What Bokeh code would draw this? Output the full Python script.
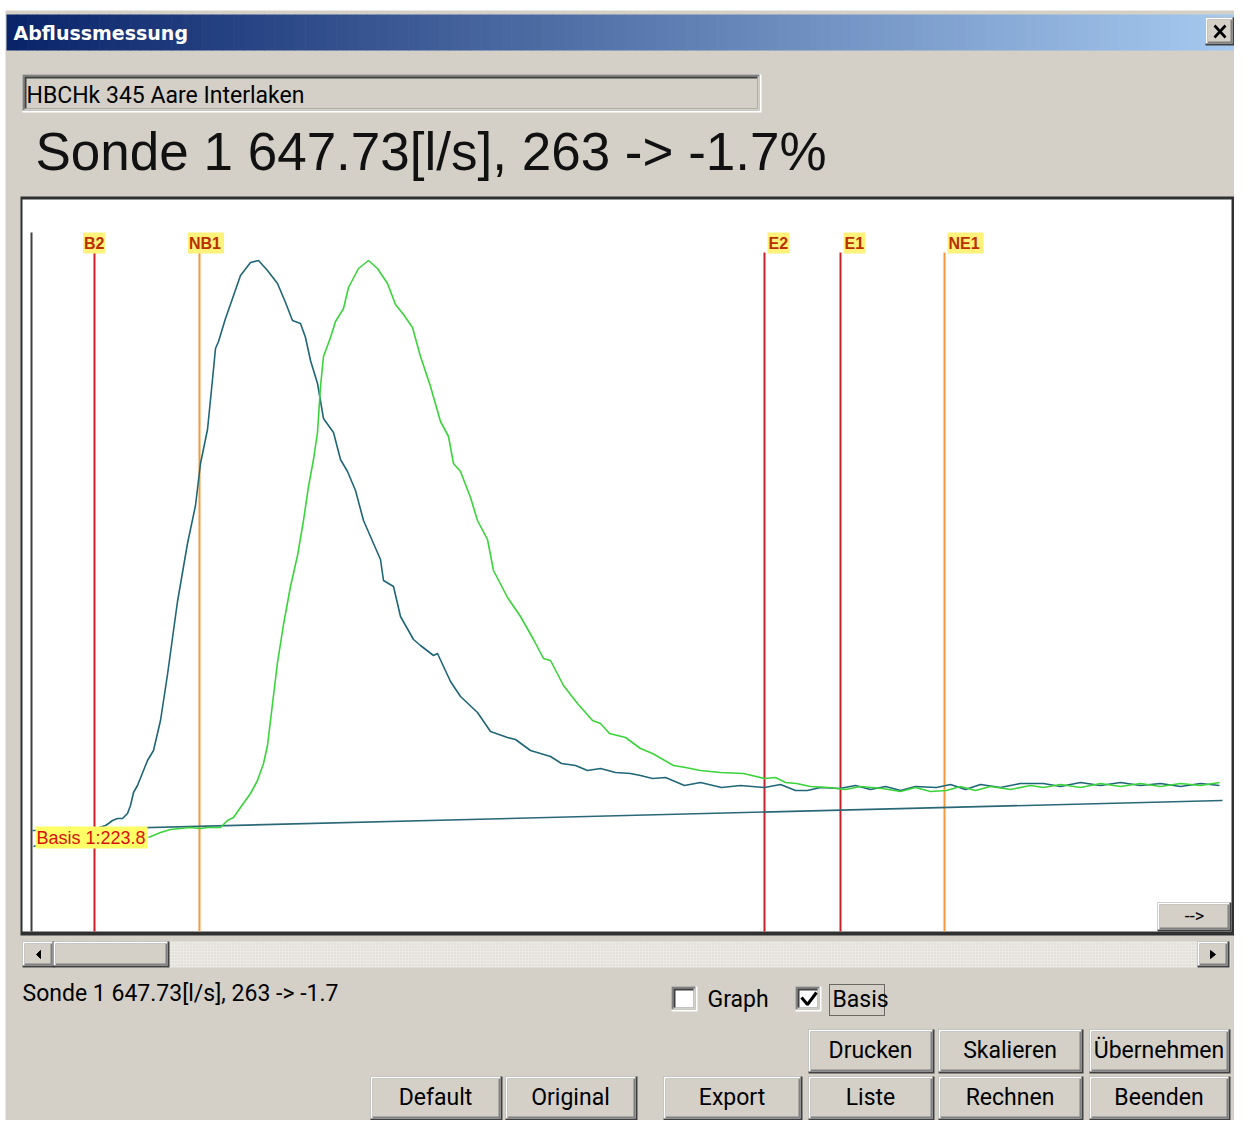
import numpy as np
from bokeh.plotting import figure
from bokeh.models import Range1d
from bokeh.core.properties import value
from bokeh.embed import file_html
from bokeh.resources import INLINE

# ---------------- data ----------------
# time (s) and signal values of the two probes
blue_t = [1, 28, 58, 73, 76, 80, 85, 90, 95, 98, 101, 105, 109, 115, 121, 128, 135, 145, 155, 163,
          168, 175, 180, 183, 186, 193, 200, 208, 218, 226, 235, 245, 253, 260, 268, 273, 278, 285,
          291, 301, 308, 315, 323, 331, 341, 348, 351, 361, 368, 381, 388, 401, 405, 418, 428, 445,
          458, 475, 483, 498, 518, 529, 543, 555, 568, 583, 598, 608, 620, 633, 652, 668, 689, 708,
          732, 748, 763, 775, 788, 807, 823, 838, 853, 868, 883, 904, 918, 933, 948, 968, 988, 1011,
          1028, 1048, 1068, 1088, 1108, 1128, 1148, 1168, 1187]
blue_v = [222.2, 223.0, 223.8, 224.3, 224.5, 224.8, 225.0, 225.0, 225.5, 226.3, 227.6, 228.3, 229.3,
          230.8, 231.8, 234.8, 239.4, 246.7, 252.5, 256.3, 260.5, 263.9, 268.9, 272.0, 272.7, 275.0,
          277.0, 279.3, 280.6, 280.8, 279.8, 278.5, 276.6, 274.8, 274.5, 273.1, 270.8, 268.5, 265.0,
          263.6, 260.9, 259.7, 257.8, 254.8, 252.5, 250.9, 248.8, 248.2, 245.2, 242.9, 242.3, 241.3,
          241.5, 238.7, 237.2, 235.6, 233.7, 233.1, 232.9, 231.8, 231.2, 230.5, 230.3, 229.8, 230.0,
          229.6, 229.5, 229.3, 229.0, 229.1, 228.3, 228.6, 228.1, 228.3, 228.1, 228.4, 227.8, 227.8,
          228.1, 228.0, 228.3, 227.9, 228.2, 227.8, 228.2, 228.1, 228.4, 227.9, 228.4, 228.1, 228.5,
          228.5, 228.2, 228.6, 228.3, 228.6, 228.3, 228.5, 228.2, 228.5, 228.3]

green_t = [116, 128, 138, 148, 158, 168, 175, 188, 195, 201, 208, 218, 225, 231, 235, 238, 245, 251,
           258, 265, 271, 276, 281, 285, 288, 291, 298, 303, 311, 316, 326, 336, 345, 355, 363, 371,
           380, 388, 398, 408, 416, 421, 428, 438, 445, 455, 461, 475, 488, 501, 511, 518, 531, 545,
           560, 568, 577, 593, 608, 620, 641, 653, 668, 688, 711, 732, 743, 753, 764, 778, 796, 813,
           828, 850, 868, 883, 898, 914, 928, 943, 958, 978, 998, 1011, 1028, 1048, 1068, 1088, 1108,
           1128, 1148, 1168, 1187]
green_v = [223.1, 223.6, 223.9, 224.0, 224.1, 224.0, 224.1, 224.1, 224.8, 225.1, 226.1, 227.5, 228.8,
           230.5, 232.3, 234.8, 240.6, 244.4, 248.2, 251.3, 254.8, 258.2, 260.9, 263.6, 268.2, 271.2,
           273.1, 274.7, 276.0, 278.1, 280.0, 280.8, 280.0, 278.5, 276.4, 275.4, 274.1, 271.2, 268.2,
           264.7, 263.2, 260.5, 259.7, 257.1, 254.8, 252.9, 249.8, 247.1, 245.2, 242.9, 241.0, 240.8,
           238.3, 236.5, 234.8, 234.5, 233.5, 233.1, 232.0, 231.5, 230.3, 230.1, 229.8, 229.6, 229.5,
           229.0, 229.1, 228.6, 228.5, 228.2, 228.1, 227.9, 228.2, 228.0, 227.7, 228.1, 227.7, 227.8,
           228.2, 227.8, 228.2, 227.9, 228.3, 228.1, 228.4, 228.1, 228.5, 228.2, 228.5, 228.2, 228.5,
           228.3, 228.6]

basis_t = [0, 1190]
basis_v = [223.8, 226.8]
basis_label = "Basis 1:223.8"

marker_names = ["B2", "NB1", "E2", "E1", "NE1"]
marker_t = [62, 167, 732, 808, 912]
marker_is_end = [False, False, True, True, True]
marker_colors = ["#C8202A", "#F09A3C", "#C8202A", "#C8202A", "#F09A3C"]

station_text = "HBCHk 345 Aare Interlaken"
result_text = "Sonde 1 647.73[l/s], 263 -> -1.7%"
status_text = "Sonde 1 647.73[l/s], 263 -> -1.7"
window_title = "Abflussmessung"
row1_buttons = ["Drucken", "Skalieren", "Übernehmen"]
row2_buttons = ["Default", "Original", "Export", "Liste", "Rechnen", "Beenden"]

# ---------------- figure ----------------
UI = "Roboto"
UI_SIZE = 23
FACE = "#D4D0C8"
W, H = 1234, 1120

p = figure(width=W, height=H, x_range=Range1d(-32, 1202), y_range=Range1d(194.8, 306.8),
           output_backend="svg", toolbar_location=None, x_axis_type=None, y_axis_type=None,
           min_border=0, outline_line_color=None)
p.min_border_left = p.min_border_right = p.min_border_top = p.min_border_bottom = 0
p.extra_x_ranges = {"px": Range1d(0, 1234)}
p.extra_y_ranges = {"px": Range1d(1120, 0)}
p.background_fill_color = "white"
p.border_fill_color = "white"

PX = dict(x_range_name="px", y_range_name="px")


def pquad(l, r, t, b, color):
    p.quad(left=[l], right=[r], top=[t], bottom=[b], fill_color=color, line_color=None, **PX)


def raised(l, r, t, b):
    pquad(l, r, t, b, "#404040")
    pquad(l, r - 2, t, b - 2, "#FFFFFF")
    pquad(l + 2, r - 2, t + 2, b - 2, "#808080")
    pquad(l + 2, r - 4, t + 2, b - 4, FACE)


def sunken(l, r, t, b, face):
    pquad(l, r, t, b, "#FFFFFF")
    pquad(l, r - 2, t, b - 2, "#808080")
    pquad(l + 2, r - 2, t + 2, b - 2, FACE)
    pquad(l + 2, r - 4, t + 2, b - 4, "#404040")
    pquad(l + 4, r - 4, t + 4, b - 4, face)


def ptext(x, y, s, size, color="#000000", font=UI, align="left", baseline="middle", style="normal"):
    p.text(x=[x], y=[y], text=[s], text_font=value(font), text_font_size=value(f"{size}px"),
           text_color=color, text_align=align, text_baseline=baseline, text_font_style=style, **PX)


# dialog background
pquad(0, 1240, 0, 1130, "#FFFFFF")
pquad(5, 1240, 10, 1130, FACE)

# title bar gradient
n = 120
xs = np.linspace(6, 1242, n + 1)
c0, c1 = (10, 36, 106), (166, 202, 240)
cols = ["#%02x%02x%02x" % tuple(int(round(a + (b - a) * i / (n - 1))) for a, b in zip(c0, c1))
        for i in range(n)]
p.quad(left=xs[:-1], right=xs[1:] + 0.6, top=14, bottom=50, fill_color=cols, line_color=None, **PX)
ptext(13, 32, window_title, 19, color="#FFFFFF", font="DejaVu Sans", style="bold")

# close button
raised(1205, 1234, 17, 45)
p.segment(x0=[1214, 1214], y0=[25, 37], x1=[1225, 1225], y1=[37, 25], line_color="#000000",
          line_width=2.6, **PX)

# station field
sunken(22, 761, 74, 112, FACE)
ptext(26, 95, station_text, UI_SIZE)

# big result text
ptext(35, 151, result_text, 53, color="#111111", font="Liberation Sans")

# chart area
pquad(20, 1234, 196, 935, "#303030")
pquad(22, 1231, 199, 931, "#FFFFFF")
p.segment(x0=[31], y0=[232], x1=[31], y1=[931], line_color="#404040", line_width=2, **PX)

# "-->" button
raised(1157, 1231, 902, 931)
ptext(1194, 915, "-->", 18, align="center")

# scrollbar
pquad(22, 1230, 941, 967, "#ECEAE5")
p.quad(left=[22], right=[1230], top=[941], bottom=[967], fill_color=None, line_color=None,
       hatch_pattern="dot", hatch_color="#D4D0C8", hatch_scale=3, **PX)
raised(22, 54, 941, 967)
raised(53, 169, 941, 967)
raised(1197, 1229, 941, 967)
p.patches(xs=[[36, 40, 40], [1210, 1210, 1215]], ys=[[954, 950, 958], [950, 958, 954]],
          fill_color="#000000", line_color="#000000", **PX)

# status text
ptext(22, 993, status_text, UI_SIZE)

# checkboxes
sunken(671, 697, 986, 1011, "#FFFFFF")
ptext(707, 999, "Graph", UI_SIZE)
sunken(795, 821, 986, 1011, "#FFFFFF")
p.line(x=[801, 807, 816], y=[997, 1004, 992], line_color="#000000", line_width=3, **PX)
ptext(832, 999, "Basis", UI_SIZE)
p.quad(left=[829], right=[884], top=[984], bottom=[1015], fill_color=None, line_color="#000000",
       line_dash="1 1", line_width=1, **PX)

# buttons
row1_x = [(808, 934), (938, 1083), (1089, 1230)]
row2_x = [(370, 502), (505, 637), (663, 802), (808, 934), (938, 1083), (1089, 1230)]
for (l, r), lab in zip(row1_x, row1_buttons):
    raised(l, r, 1029, 1073)
    ptext((l + r) / 2 - 1, 1050, lab, UI_SIZE, align="center")
for (l, r), lab in zip(row2_x, row2_buttons):
    raised(l, r, 1076, 1120)
    ptext((l + r) / 2 - 1, 1097, lab, UI_SIZE, align="center")

# ---------------- chart content (data coordinates) ----------------
top_v, bot_v = 281.6, 213.7
p.segment(x0=marker_t, y0=[top_v] * len(marker_t), x1=marker_t, y1=[bot_v] * len(marker_t),
          line_color=marker_colors, line_width=2)

p.line(basis_t, basis_v, line_color="#2A6878", line_width=1.6)
p.line(blue_t, blue_v, line_color="#1F6676", line_width=1.6)
p.line(green_t, green_v, line_color="#3AD43A", line_width=1.6)

# marker labels
lab_left = [t + 3 if e else t - 11.5 for t, e in zip(marker_t, marker_is_end)]
lab_right = [l + 14 * len(nm) - 6 for l, nm in zip(lab_left, marker_names)]
p.quad(left=lab_left, right=lab_right, top=[283.6] * 5, bottom=[281.5] * 5,
       fill_color="#FFF27A", line_color=None)
p.text(x=[l + 1 for l in lab_left], y=[282.55] * 5, text=marker_names,
       text_font=value("Liberation Sans"), text_font_size=value("16px"), text_font_style="bold",
       text_color="#B83000", text_baseline="middle")

# basis label
p.quad(left=[3], right=[115], top=[224.2], bottom=[222.0], fill_color="#FFFF66", line_color=None)
p.text(x=[4], y=[223.1], text=[basis_label], text_font=value("Liberation Sans"),
       text_font_size=value("18px"), text_color="#D81010", text_baseline="middle")

open("out.html", "w").write(file_html(p, INLINE))
